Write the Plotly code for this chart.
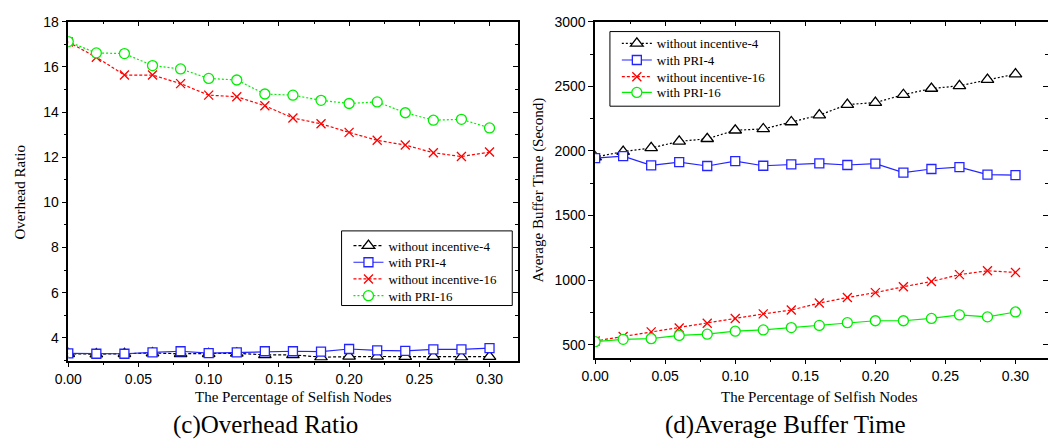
import plotly.graph_objects as go

W, H = 1048, 442

x_vals = [0.00, 0.02, 0.04, 0.06, 0.08, 0.10, 0.12, 0.14, 0.16, 0.18, 0.20, 0.22, 0.24, 0.26, 0.28, 0.30]

# (c) Overhead Ratio
ovh_without4 = [3.30, 3.28, 3.30, 3.33, 3.30, 3.30, 3.32, 3.25, 3.25, 3.15, 3.18, 3.18, 3.17, 3.17, 3.15, 3.17]
ovh_pri4 = [3.32, 3.30, 3.30, 3.36, 3.41, 3.33, 3.36, 3.41, 3.41, 3.39, 3.51, 3.45, 3.43, 3.49, 3.49, 3.55]
ovh_without16 = [17.10, 16.43, 15.64, 15.64, 15.26, 14.75, 14.68, 14.28, 13.74, 13.48, 13.10, 12.75, 12.54, 12.20, 12.03, 12.23]
ovh_pri16 = [17.12, 16.62, 16.59, 16.06, 15.91, 15.49, 15.42, 14.80, 14.75, 14.52, 14.38, 14.45, 13.97, 13.64, 13.68, 13.30]

# (d) Average Buffer Time
buf_without4 = [1952, 1995, 2023, 2074, 2094, 2160, 2170, 2224, 2277, 2359, 2374, 2435, 2483, 2504, 2552, 2595]
buf_pri4 = [1944, 1959, 1888, 1913, 1883, 1921, 1885, 1896, 1903, 1891, 1901, 1832, 1860, 1875, 1817, 1812]
buf_without16 = [528, 563, 599, 629, 665, 703, 738, 768, 822, 865, 903, 948, 989, 1042, 1072, 1059]
buf_pri16 = [523, 541, 546, 571, 581, 604, 614, 632, 649, 670, 685, 685, 703, 730, 715, 753]

names = ["without incentive-4", "with PRI-4", "without incentive-16", "with PRI-16"]

SERIF = "Liberation Serif, Times New Roman, serif"
SANS = "Liberation Sans, Arial, sans-serif"

def px(xp):
    return xp / W

def py(yp):
    return 1 - yp / H

fig = go.Figure()

styles = [
    dict(color="black", symbol="triangle-up", size=11),
    dict(color="#2424ff", symbol="square", size=9),
    dict(color="#ff0000", symbol="x-thin", size=9),
    dict(color="#00ee00", symbol="circle", size=10),
]
left_dash = ["3px,2px", "solid", "3px,2px", "2px,2px"]
right_dash = ["2px,2px", "solid", "3px,2px", "solid"]

left_data = [ovh_without4, ovh_pri4, ovh_without16, ovh_pri16]
right_data = [buf_without4, buf_pri4, buf_without16, buf_pri16]

legend_ids = ["legend", "legend2", "legend3", "legend4", "legend5", "legend6", "legend7", "legend8"]

for i in range(4):
    st = styles[i]
    is_x = st["symbol"] == "x-thin"
    fig.add_trace(go.Scatter(
        x=x_vals, y=left_data[i], name=names[i], mode="lines+markers",
        xaxis="x", yaxis="y", legend=legend_ids[i], showlegend=True,
        line=dict(color=st["color"], width=1.2, dash=left_dash[i]),
        marker=dict(symbol=st["symbol"], size=st["size"],
                    color=st["color"] if is_x else "white",
                    line=dict(color=st["color"], width=1.3)),
    ))
for i in range(4):
    st = styles[i]
    is_x = st["symbol"] == "x-thin"
    fig.add_trace(go.Scatter(
        x=x_vals, y=right_data[i], name=names[i], mode="lines+markers",
        xaxis="x2", yaxis="y2", legend=legend_ids[4 + i], showlegend=True,
        line=dict(color=st["color"], width=1.2, dash=right_dash[i]),
        marker=dict(symbol=st["symbol"], size=st["size"],
                    color=st["color"] if is_x else "white",
                    line=dict(color=st["color"], width=1.3)),
    ))

# empty traces that activate the mirrored frame axes (top / right)
fig.add_trace(go.Scatter(x=[], y=[], xaxis="x3", yaxis="y3", showlegend=False))
fig.add_trace(go.Scatter(x=[], y=[], xaxis="x4", yaxis="y4", showlegend=False))

L_dom_x = [px(55), px(511)]
L_dom_y = [py(359), py(14)]
R_dom_x = [px(589), 1.0]
R_dom_y = [py(356), py(14)]

L_xr = [0, 0.3204]
L_yr = [3, 18]
R_xr = [0, 0.3232]
R_yr = [400, 3000]

tickfont = dict(family=SANS, size=14, color="black")

def base_x(dom, rng, anchor):
    return dict(domain=dom, range=rng, anchor=anchor, showgrid=False, zeroline=False,
                showline=True, linecolor="black", linewidth=1.5,
                ticks="outside", ticklen=5, tickwidth=1, tickcolor="black",
                dtick=0.05, tick0=0, tickformat=".2f", tickfont=tickfont,
                minor=dict(ticks="outside", ticklen=3, dtick=0.025, tick0=0, tickcolor="black"))

def base_y(dom, rng, anchor, dtick, mdtick):
    return dict(domain=dom, range=rng, anchor=anchor, showgrid=False, zeroline=False,
                showline=True, linecolor="black", linewidth=1.5,
                ticks="outside", ticklen=5, tickwidth=1, tickcolor="black",
                dtick=dtick, tick0=0, tickfont=tickfont,
                minor=dict(ticks="outside", ticklen=3, dtick=mdtick, tick0=0, tickcolor="black"))

def frame_x(overlay, rng, anchor):
    return dict(overlaying=overlay, side="top", range=rng, anchor=anchor, showgrid=False,
                zeroline=False, showline=True, linecolor="black", linewidth=1.5,
                ticks="inside", ticklen=5, tickwidth=1, tickcolor="black",
                dtick=0.05, tick0=0, showticklabels=False,
                minor=dict(ticks="inside", ticklen=3, dtick=0.025, tick0=0, tickcolor="black"))

def frame_y(overlay, rng, anchor, dtick, mdtick, showline=True):
    return dict(overlaying=overlay, side="right", range=rng, anchor=anchor, showgrid=False,
                zeroline=False, showline=showline, linecolor="black", linewidth=1.5,
                ticks="inside", ticklen=5, tickwidth=1, tickcolor="black",
                dtick=dtick, tick0=0, showticklabels=False,
                minor=dict(ticks="inside", ticklen=3, dtick=mdtick, tick0=0, tickcolor="black"))

def one_legend(xp, yp):
    return dict(x=px(xp), y=py(yp), xanchor="left", yanchor="middle", visible=True,
                bgcolor="rgba(0,0,0,0)", borderwidth=0, itemwidth=30,
                font=dict(family=SERIF, size=13, color="black"))

left_rows = [242, 259, 276, 293]
right_rows = [36, 53, 70, 86]
legends = {}
for i in range(4):
    legends[legend_ids[i]] = one_legend(339, left_rows[i])
    legends[legend_ids[4 + i]] = one_legend(611, right_rows[i])

def ann(text, xp, yp, size, angle=0):
    return dict(text=text, x=px(xp), y=py(yp), xref="paper", yref="paper", showarrow=False,
                xanchor="center", yanchor="middle", textangle=angle,
                font=dict(family=SERIF, size=size, color="black"))

fig.update_layout(
    width=W, height=H, margin=dict(l=0, r=0, t=0, b=0),
    paper_bgcolor="white", plot_bgcolor="white",
    showlegend=True,
    xaxis=base_x(L_dom_x, L_xr, "y"),
    yaxis=base_y(L_dom_y, L_yr, "x", 2, 1),
    xaxis2=base_x(R_dom_x, R_xr, "y2"),
    yaxis2=base_y(R_dom_y, R_yr, "x2", 500, 250),
    xaxis3=frame_x("x", L_xr, "y3"),
    yaxis3=frame_y("y", L_yr, "x3", 2, 1),
    xaxis4=frame_x("x2", R_xr, "y4"),
    yaxis4=frame_y("y2", R_yr, "x4", 500, 250, showline=False),
    shapes=[
        dict(type="rect", xref="paper", yref="paper", x0=px(332), x1=px(505), y0=py(303), y1=py(227),
             line=dict(color="black", width=1)),
        dict(type="rect", xref="paper", yref="paper", x0=px(604), x1=px(776), y0=py(100), y1=py(24),
             line=dict(color="black", width=1)),
    ],
    annotations=[
        ann("Overhead Ratio", 6, 187, 15, -90),
        ann("Average Buffer Time (Second)", 532, 185, 15, -90),
        ann("The Percentage of Selfish Nodes", 283, 396, 15),
        ann("The Percentage of Selfish Nodes", 816, 396, 15),
        ann("(c)Overhead Ratio", 255, 425, 25),
        ann("(d)Average Buffer Time", 782, 425, 25),
    ],
    **legends,
)

fig.write_html("out.html")
